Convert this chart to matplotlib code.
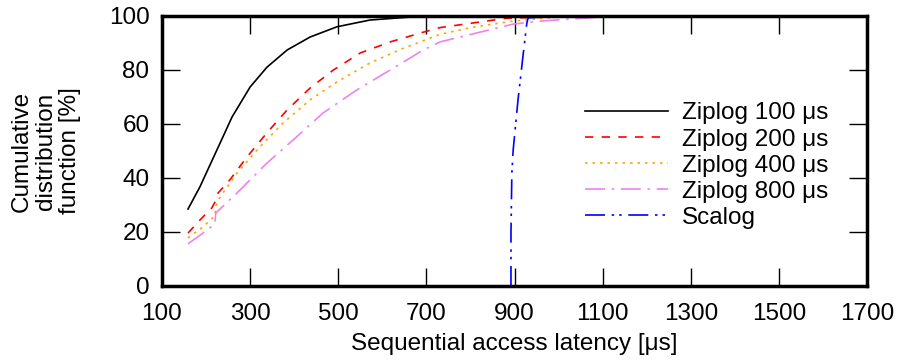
import matplotlib
matplotlib.use("Agg")
import matplotlib.pyplot as plt

plt.rcParams['font.family'] = ['Liberation Sans', 'DejaVu Sans']

# latency [us] / CDF [%]
zip100_x = [159, 186, 232, 259, 300, 338, 384, 436, 497, 572, 663, 700, 1700]
zip100_y = [28.5, 36.7, 53, 62.6, 73.7, 81, 87.4, 92.2, 96, 98.5, 99.6, 100, 100]

zip200_x = [159, 186, 213, 220, 227, 254, 293, 338, 384, 436, 489, 550, 618, 693, 731, 883, 980, 1100, 1700]
zip200_y = [19.6, 24.4, 28.9, 31, 34.4, 39.3, 47.8, 56.7, 65.2, 73.3, 80, 86.3, 90.4, 94, 95.7, 99.2, 99.6, 100, 100]

zip400_x = [159, 193, 220, 222, 227, 270, 322, 375, 436, 497, 572, 647, 731, 806, 897, 997, 1100, 1700]
zip400_y = [17.8, 21.9, 26, 29, 31.8, 41.8, 51.5, 60.4, 68.9, 75.6, 82.6, 88, 93.2, 95.9, 98.1, 99.6, 100, 100]

zip800_x = [159, 193, 220, 222, 227, 270, 338, 397, 465, 542, 618, 693, 731, 897, 958, 1094, 1200, 1700]
zip800_y = [15.6, 19.6, 23, 27, 27.8, 34.4, 45.5, 54, 64, 72.6, 80, 87.4, 90.4, 97, 98.1, 99.6, 100, 100]

scalog_x = [892, 892, 894, 897, 908, 919, 928, 931, 1000, 1700]
scalog_y = [0, 19.6, 41.8, 50.4, 69, 84.8, 97.4, 99.3, 100, 100]

fig = plt.figure(figsize=(9.02, 3.6), dpi=100)
ax = fig.add_axes([0.1796, 0.2056, 0.7816, 0.75])

lw = 1.2
fs = 17.5
ax.plot(zip100_x, zip100_y, color='black', lw=lw, label='Ziplog 100 μs')
ax.plot(zip200_x, zip200_y, color='red', lw=lw, dashes=(5, 5), label='Ziplog 200 μs')
ax.plot(zip400_x, zip400_y, color='orange', lw=lw, dashes=(1.5, 3), label='Ziplog 400 μs')
ax.plot(zip800_x, zip800_y, color='violet', lw=lw, dashes=(12, 4, 1.5, 4), label='Ziplog 800 μs')
ax.plot(scalog_x, scalog_y, color='blue', lw=lw, dashes=(12, 4, 1.5, 3, 1.5, 4), label='Scalog')

ax.set_xlim(100, 1700)
ax.set_ylim(0, 100)
ax.set_xticks(range(100, 1701, 200))
ax.set_yticks(range(0, 101, 20))
ax.tick_params(direction='in', length=13, width=1, top=True, right=True,
               labelsize=fs, pad=9)
ax.tick_params(axis='x', pad=12)
for s in ax.spines.values():
    s.set_linewidth(2.5)

ax.set_xlabel('Sequential access latency [μs]', fontsize=fs, labelpad=6)
ax.set_ylabel('Cumulative\ndistribution\nfunction [%]', fontsize=fs, labelpad=20,
              linespacing=1.12)

ax.legend(loc='upper left', bbox_to_anchor=(0.6, 0.68), frameon=False,
          fontsize=fs, handlelength=3.4, handletextpad=0.6, labelspacing=0.17,
          borderpad=0, borderaxespad=0)

fig.savefig('out.png', dpi=100)
